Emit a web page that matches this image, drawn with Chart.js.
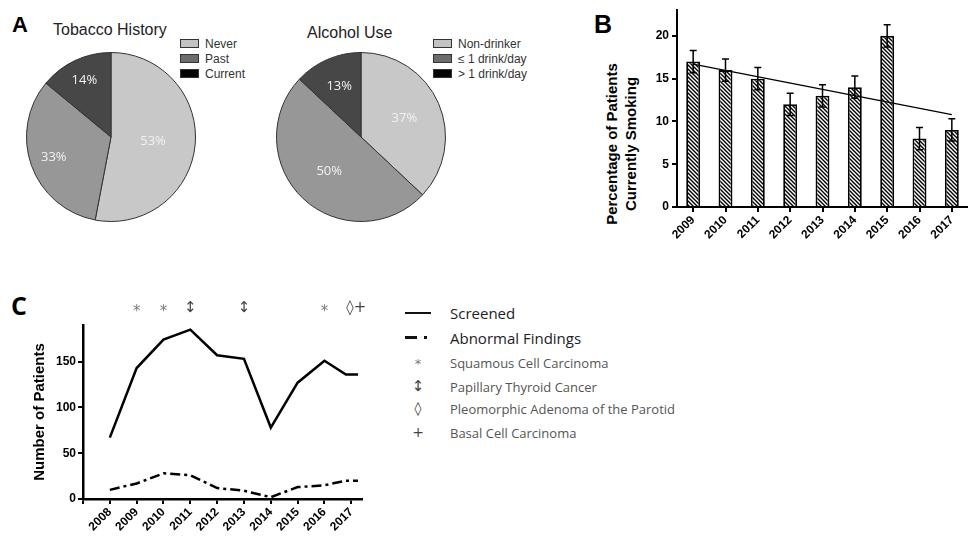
<!DOCTYPE html>
<html>
<head>
<meta charset="utf-8">
<script src="https://cdn.jsdelivr.net/npm/chart.js@4.4.1/dist/chart.umd.min.js"></script>
<style>
  body { margin: 0; width: 968px; height: 543px; position: relative; overflow: hidden; background: #fff;
         font-family: "Liberation Sans", Arial, sans-serif; color: #222; }
  canvas, .txt { position: absolute; }
  .txt { white-space: nowrap; line-height: 1; }
  .panel { font-weight: bold; color: #000; }
  .legend { position: absolute; font-size: 12px; color: #333; }
  .legend .row { height: 15px; display: flex; align-items: center; white-space: nowrap; }
  .legend .box { width: 19px; height: 9px; border: 1px solid #333; margin-right: 6px; box-sizing: border-box; }
  .legC { position: absolute; left: 400px; font-family: "Open Sans", sans-serif; white-space: nowrap; }
  .legC .sym { position: absolute; left: 0; width: 36px; text-align: center; color: #444; font-family: "DejaVu Sans", sans-serif; }
  .legC .lab { position: absolute; left: 50px; }
</style>
</head>
<body>

<!-- Panel A -->
<div class="txt panel" style="left:12px;top:14px;font-size:22px">A</div>
<div class="txt" style="left:53px;top:22px;font-size:16px">Tobacco History</div>
<div class="legend" id="legTobacco" style="left:180px;top:36px"></div>
<canvas id="pieTobacco" width="170" height="170" style="left:26px;top:52px"></canvas>

<div class="txt" style="left:307px;top:25px;font-size:16px">Alcohol Use</div>
<div class="legend" id="legAlcohol" style="left:433px;top:36px"></div>
<canvas id="pieAlcohol" width="170" height="170" style="left:276px;top:52px"></canvas>

<!-- Panel B -->
<div class="txt panel" style="left:594px;top:12px;font-size:25px">B</div>
<div class="txt" style="left:621px;top:144px;font-size:15px;font-weight:bold;color:#000;line-height:19px;text-align:center;transform:translate(-50%,-50%) rotate(-90deg)">Percentage of Patients<br>Currently Smoking</div>
<canvas id="barSmoking" width="393" height="250" style="left:575px;top:0px"></canvas>

<!-- Panel C -->
<div class="txt panel" style="left:11px;top:293px;font-size:25px;font-family:'Open Sans',sans-serif">C</div>
<canvas id="lineScreen" width="380" height="253" style="left:0px;top:290px"></canvas>

<div class="legC" style="top:0">
  <div style="position:absolute;left:5px;top:312px;width:26px;height:0;border-top:2.5px solid #111"></div>
  <div class="lab" style="top:303px;font-size:15px;color:#222">Screened</div>
  <div style="position:absolute;left:5px;top:336px;width:12px;height:0;border-top:3px solid #111"></div>
  <div style="position:absolute;left:24px;top:336px;width:3px;height:0;border-top:3px solid #111"></div>
  <div class="lab" style="top:328px;font-size:15px;color:#222">Abnormal Findings</div>
  <div class="sym" style="top:356px;font-size:13px;color:#777">*</div>
  <div class="lab" style="top:354px;font-size:13px;color:#555">Squamous Cell Carcinoma</div>
  <div class="sym" style="top:377px;font-size:15px">↕</div>
  <div class="lab" style="top:378px;font-size:13px;color:#555">Papillary Thyroid Cancer</div>
  <div class="sym" style="top:400px;font-size:14px">◊</div>
  <div class="lab" style="top:400px;font-size:13px;color:#555">Pleomorphic Adenoma of the Parotid</div>
  <div class="sym" style="top:424px;font-size:14px">+</div>
  <div class="lab" style="top:424px;font-size:13px;color:#555">Basal Cell Carcinoma</div>
</div>

<script>
// ---- data ----
const tobaccoLabels = ['Never', 'Past', 'Current'];
const tobaccoValues = [53, 33, 14];
const alcoholLabels = ['Non-drinker', '≤ 1 drink/day', '> 1 drink/day'];
const alcoholValues = [37, 50, 13];

const smokingYears = ['2009', '2010', '2011', '2012', '2013', '2014', '2015', '2016', '2017'];
const smokingPct = [17, 16, 15, 12, 13, 14, 20, 8, 9];
const smokingErr = [1.3, 1.3, 1.3, 1.3, 1.3, 1.3, 1.3, 1.3, 1.3];
const smokingTrend = [16.7, null, null, null, null, null, null, null, 10.8];

const screenYears = [2008, 2009, 2010, 2011, 2012, 2013, 2014, 2015, 2016, 2016.8, 2017.25];
const screened = [67, 143, 174, 185, 157, 153, 78, 127, 151, 136, 136];
const abnormal = [10, 17, 28, 26, 12, 9, 2, 13, 15, 20, 20];
const yearTicks = [2007, 2008, 2009, 2010, 2011, 2012, 2013, 2014, 2015, 2016, 2017];
const findingYears = [2009, 2010, 2011, 2013, 2016, 2017];
const findingMarks = ['*', '*', '↕', '↕', '*', '◊+'];

// ---- shared styles ----
const sliceColors = ['#c8c8c8', '#979797', '#474747'];
const legendColors = ['#c2c2c2', '#6c6c6c', '#050505'];
const boldTick = { family: 'Liberation Sans', size: 12, weight: 'bold' };

Chart.defaults.font.family = 'Liberation Sans';
Chart.defaults.color = '#000';

function buildLegend(id, labels) {
    const box = document.getElementById(id);
    labels.forEach((label, i) => {
        const row = document.createElement('div');
        row.className = 'row';
        row.innerHTML = `<span class="box" style="background:${legendColors[i]}"></span><span>${label}</span>`;
        box.appendChild(row);
    });
}

// percent labels inside the slices
const pctLabels = {
    id: 'pctLabels',
    afterDatasetsDraw(chart, args, opts) {
        const ctx = chart.ctx;
        const values = chart.data.datasets[0].data;
        ctx.save();
        ctx.font = '13px "Open Sans"';
        ctx.fillStyle = '#f2f2f2';
        ctx.textAlign = 'center';
        ctx.textBaseline = 'middle';
        chart.getDatasetMeta(0).data.forEach((arc, i) => {
            const mid = (arc.startAngle + arc.endAngle) / 2;
            const r = arc.outerRadius * opts.radius[i];
            ctx.fillText(values[i] + '%', arc.x + Math.cos(mid) * r, arc.y + Math.sin(mid) * r);
        });
        ctx.restore();
    }
};

function renderPie(id, labels, values, labelRadius) {
    return new Chart(document.getElementById(id), {
        type: 'pie',
        data: {
            labels: labels,
            datasets: [{
                data: values,
                backgroundColor: sliceColors,
                borderColor: '#333',
                borderWidth: 1,
                hoverOffset: 0
            }]
        },
        options: {
            responsive: false,
            animation: false,
            devicePixelRatio: 1,
            events: [],
            plugins: {
                legend: { display: false },
                tooltip: { enabled: false },
                pctLabels: { radius: labelRadius }
            }
        },
        plugins: [pctLabels]
    });
}

// hatch fill for the bars
function hatchPattern() {
    const c = document.createElement('canvas');
    c.width = c.height = 4;
    const g = c.getContext('2d');
    g.fillStyle = '#fff';
    g.fillRect(0, 0, 4, 4);
    g.strokeStyle = '#000';
    g.lineWidth = 1.4;
    g.beginPath();
    g.moveTo(-1, -1); g.lineTo(5, 5);
    g.moveTo(-3, 1); g.lineTo(3, 7);
    g.moveTo(1, -3); g.lineTo(7, 3);
    g.stroke();
    return g.createPattern(c, 'repeat');
}

const errorBars = {
    id: 'errorBars',
    afterDatasetsDraw(chart) {
        const ctx = chart.ctx;
        const y = chart.scales.y;
        ctx.save();
        ctx.strokeStyle = '#000';
        ctx.lineWidth = 1.5;
        chart.getDatasetMeta(1).data.forEach((bar, i) => {
            const top = y.getPixelForValue(smokingPct[i] + smokingErr[i]);
            const bot = y.getPixelForValue(smokingPct[i] - smokingErr[i]);
            ctx.beginPath();
            ctx.moveTo(bar.x, top); ctx.lineTo(bar.x, bot);
            ctx.moveTo(bar.x - 3.5, top); ctx.lineTo(bar.x + 3.5, top);
            ctx.moveTo(bar.x - 3.5, bot); ctx.lineTo(bar.x + 3.5, bot);
            ctx.stroke();
        });
        ctx.restore();
    }
};

function renderBars() {
    new Chart(document.getElementById('barSmoking'), {
        data: {
            labels: smokingYears,
            datasets: [{
                type: 'line',
                data: smokingTrend,
                spanGaps: true,
                borderColor: '#000',
                borderWidth: 1.3,
                pointRadius: 0,
                order: 0
            }, {
                type: 'bar',
                data: smokingPct,
                backgroundColor: hatchPattern(),
                borderColor: '#000',
                borderWidth: 1.8,
                barPercentage: 0.43,
                categoryPercentage: 1,
                order: 1
            }]
        },
        options: {
            responsive: false,
            animation: false,
            devicePixelRatio: 1,
            events: [],
            layout: { padding: { top: 3, right: 0 } },
            plugins: { legend: { display: false }, tooltip: { enabled: false } },
            scales: {
                x: {
                    afterFit: s => { s.height = 43; },
                    grid: { display: true, drawOnChartArea: false, offset: false, tickLength: 5, lineWidth: 2, color: '#000' },
                    border: { display: true, width: 2, color: '#000' },
                    ticks: { font: boldTick, color: '#000', minRotation: 45, maxRotation: 45, autoSkip: false, padding: 1 }
                },
                y: {
                    min: 0,
                    max: 23,
                    afterFit: s => { s.width = 102; },
                    grid: { display: true, drawOnChartArea: false, tickLength: 5, lineWidth: 2, color: '#000' },
                    border: { display: true, width: 2, color: '#000' },
                    ticks: { stepSize: 5, includeBounds: false, font: boldTick, color: '#000', padding: 3 }
                }
            }
        },
        plugins: [errorBars]
    });
}

// diagnosis symbols above panel C
const findingSymbols = {
    id: 'findingSymbols',
    afterDraw(chart) {
        const ctx = chart.ctx;
        const x = chart.scales.x;
        const yTop = chart.chartArea.top - 17;
        ctx.save();
        ctx.textAlign = 'center';
        ctx.textBaseline = 'middle';
        findingYears.forEach((yr, i) => {
            const mark = findingMarks[i];
            ctx.font = '15px "DejaVu Sans"';
            if (mark === '*') {
                ctx.fillStyle = '#7a7a7a';
                ctx.fillText(mark, x.getPixelForValue(yr), yTop + 4);
            } else {
                ctx.fillStyle = '#444';
                ctx.fillText(mark, x.getPixelForValue(yr) + (mark.length > 1 ? 5 : 0), yTop);
            }
        });
        ctx.restore();
    }
};

function renderLines() {
    const pts = vals => screenYears.map((yr, i) => ({ x: yr, y: vals[i] }));
    new Chart(document.getElementById('lineScreen'), {
        type: 'line',
        data: {
            datasets: [{
                label: 'Screened',
                data: pts(screened),
                borderColor: '#000',
                borderWidth: 2.5,
                pointRadius: 0,
                tension: 0
            }, {
                label: 'Abnormal Findings',
                data: pts(abnormal),
                borderColor: '#000',
                borderWidth: 2.5,
                borderDash: [10, 4, 3, 4],
                pointRadius: 0,
                tension: 0
            }]
        },
        options: {
            responsive: false,
            animation: false,
            devicePixelRatio: 1,
            events: [],
            layout: { padding: { top: 35, right: 18 } },
            plugins: { legend: { display: false }, tooltip: { enabled: false } },
            scales: {
                x: {
                    type: 'linear',
                    min: 2007,
                    max: 2017.4,
                    afterBuildTicks: s => { s.ticks = yearTicks.map(v => ({ value: v })); },
                    afterFit: s => { s.height = 44; },
                    grid: { display: true, drawOnChartArea: false, tickLength: 5, lineWidth: 2, color: '#000' },
                    border: { display: true, width: 2.5, color: '#000' },
                    ticks: {
                        font: boldTick, color: '#000', minRotation: 45, maxRotation: 45, autoSkip: false, padding: 1,
                        callback: v => (v === 2007 ? '' : String(v))
                    }
                },
                y: {
                    min: 0,
                    max: 190,
                    afterFit: s => { s.width = 83; },
                    grid: { display: true, drawOnChartArea: false, tickLength: 5, lineWidth: 2, color: '#000' },
                    border: { display: true, width: 2.5, color: '#000' },
                    ticks: { stepSize: 50, includeBounds: false, font: boldTick, color: '#000', padding: 2 },
                    title: {
                        display: true,
                        text: 'Number of Patients',
                        font: { family: 'Liberation Sans', size: 15, weight: 'bold' },
                        color: '#000',
                        padding: { top: 31, bottom: 0 }
                    }
                }
            }
        },
        plugins: [findingSymbols]
    });
}

buildLegend('legTobacco', tobaccoLabels);
buildLegend('legAlcohol', alcoholLabels);
renderPie('pieTobacco', tobaccoLabels, tobaccoValues, [0.5, 0.72, 0.74]);
renderPie('pieAlcohol', alcoholLabels, alcoholValues, [0.56, 0.55, 0.65]);
renderBars();
renderLines();
</script>
</body>
</html>
